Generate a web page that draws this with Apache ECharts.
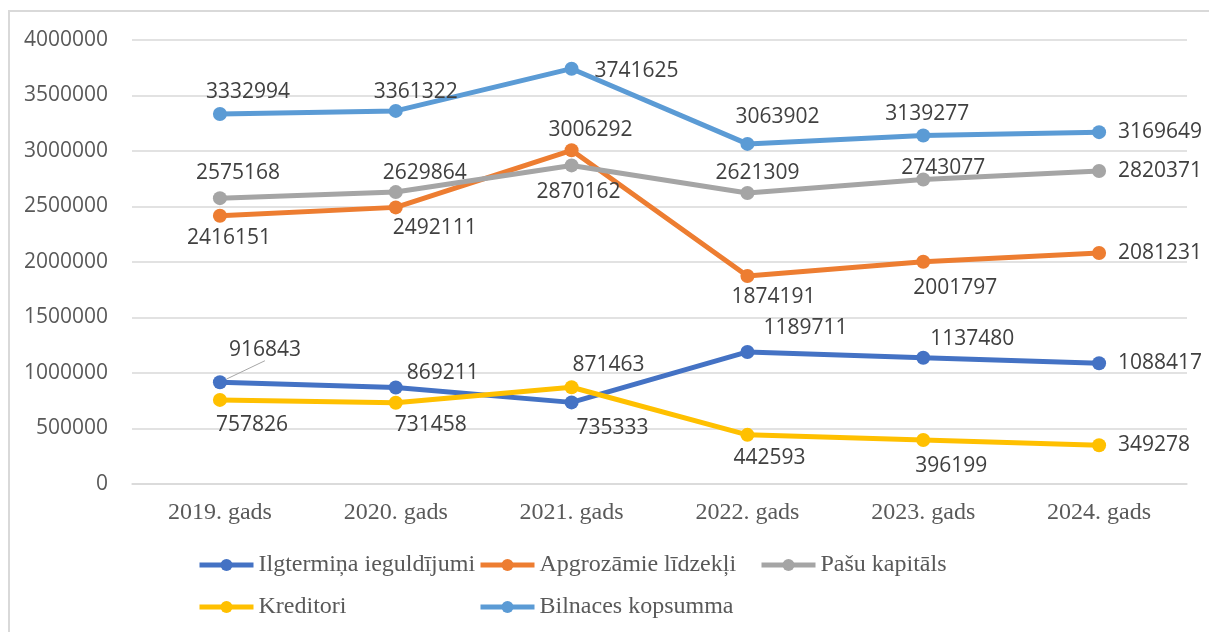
<!DOCTYPE html>
<html>
<head>
<meta charset="utf-8">
<script src="https://cdn.jsdelivr.net/npm/echarts@6/dist/echarts.min.js"></script>
<style>
  html, body { margin: 0; padding: 0; background: #fff; }
  .frame {
    position: absolute; left: 8px; top: 10px; width: 1300px; height: 700px;
    border-left: 2px solid #d9d9d9; border-top: 2px solid #d9d9d9;
  }
  #chart { position: absolute; left: 0; top: 0; width: 1209px; height: 632px; }
</style>
</head>
<body>
<div class="frame"></div>
<div id="chart"></div>
<script>
  // kategorijas un vērtības
  var years = ['2019. gads', '2020. gads', '2021. gads', '2022. gads', '2023. gads', '2024. gads']
  var yTicks = { min: 0, max: 4000000, step: 500000 }

  var ilgtermina = [916843, 869211, 735333, 1189711, 1137480, 1088417]
  var apgrozamie = [2416151, 2492111, 3006292, 1874191, 2001797, 2081231]
  var pasuKapitals = [2575168, 2629864, 2870162, 2621309, 2743077, 2820371]
  var kreditori = [757826, 731458, 871463, 442593, 396199, 349278]
  var bilnace = [3332994, 3361322, 3741625, 3063902, 3139277, 3169649]

  // etiķešu nobīdes (px) no punkta centra
  var offIlgt = [[45, -32], [47, -15], [41, 26], [58, -24], [49, -19], [61, 0]]
  var offApgr = [[9, 22], [39, 21], [19, -20], [26, 21], [32, 26], [61, 0]]
  var offPasu = [[18, -25], [29, -19], [7, 27], [10, -20], [20, -12], [61, 0]]
  var offKred = [[32, 25], [35, 22], [37, -22], [22, 23], [28, 26], [55, 0]]
  var offBiln = [[28, -22], [20, -19], [65, 2], [30, -27], [4, -22], [61, 0]]

  var numFont = '"Open Sans", sans-serif'
  var serifFont = '"Liberation Serif", "DejaVu Serif", serif'

  function makeSeries(name, values, offsets, color) {
    return {
      name: name,
      type: 'line',
      symbol: 'circle',
      symbolSize: 14,
      lineStyle: { width: 5, color: color },
      itemStyle: { color: color },
      data: values.map(function (v, i) {
        return { value: v, label: { offset: offsets[i] } }
      }),
      label: {
        show: true,
        position: 'inside',
        color: '#404040',
        fontFamily: numFont,
        fontSize: 21
      },
      emphasis: { disabled: true }
    }
  }

  var series = [
    makeSeries('Ilgtermiņa ieguldījumi', ilgtermina, offIlgt, '#4472C4'),
    makeSeries('Apgrozāmie līdzekļi', apgrozamie, offApgr, '#ED7D31'),
    makeSeries('Pašu kapitāls', pasuKapitals, offPasu, '#A5A5A5'),
    makeSeries('Kreditori', kreditori, offKred, '#FFC000'),
    makeSeries('Bilnaces kopsumma', bilnace, offBiln, '#5B9BD5')
  ]
  // 2019. gada etiķetei ir vadlīnija
  series[0].data[0].labelLine = { show: true, lineStyle: { color: '#a6a6a6', width: 1 } }

  function legendAt(left, names) {
    return {
      orient: 'vertical',
      left: left,
      top: 553,
      padding: 0,
      itemWidth: 54,
      itemHeight: 15,
      itemGap: 18,
      lineStyle: { width: 5 },
      data: names,
      textStyle: { color: '#595959', fontFamily: serifFont, fontSize: 24, lineHeight: 24 }
    }
  }

  var myChart = echarts.init(document.getElementById('chart'))
  var option = {
    animation: false,
    grid: { left: 132, right: 22, top: 40, bottom: 148, containLabel: false },
    legend: [
      legendAt(197, ['Ilgtermiņa ieguldījumi', 'Kreditori']),
      legendAt(478, ['Apgrozāmie līdzekļi', 'Bilnaces kopsumma']),
      legendAt(759, ['Pašu kapitāls'])
    ],
    xAxis: {
      type: 'category',
      data: years,
      boundaryGap: true,
      axisLine: { lineStyle: { color: '#d9d9d9', width: 1.5 } },
      axisTick: { show: false },
      axisLabel: { color: '#595959', fontFamily: serifFont, fontSize: 24, margin: 17 }
    },
    yAxis: {
      type: 'value',
      min: yTicks.min,
      max: yTicks.max,
      interval: yTicks.step,
      axisLine: { show: false },
      axisTick: { show: false },
      splitLine: { lineStyle: { color: '#d9d9d9', width: 1.5 } },
      axisLabel: {
        color: '#595959', fontFamily: numFont, fontSize: 21, margin: 24,
        formatter: function (v) { return String(v) }
      }
    },
    series: series
  }
  myChart.setOption(option)
</script>
</body>
</html>
